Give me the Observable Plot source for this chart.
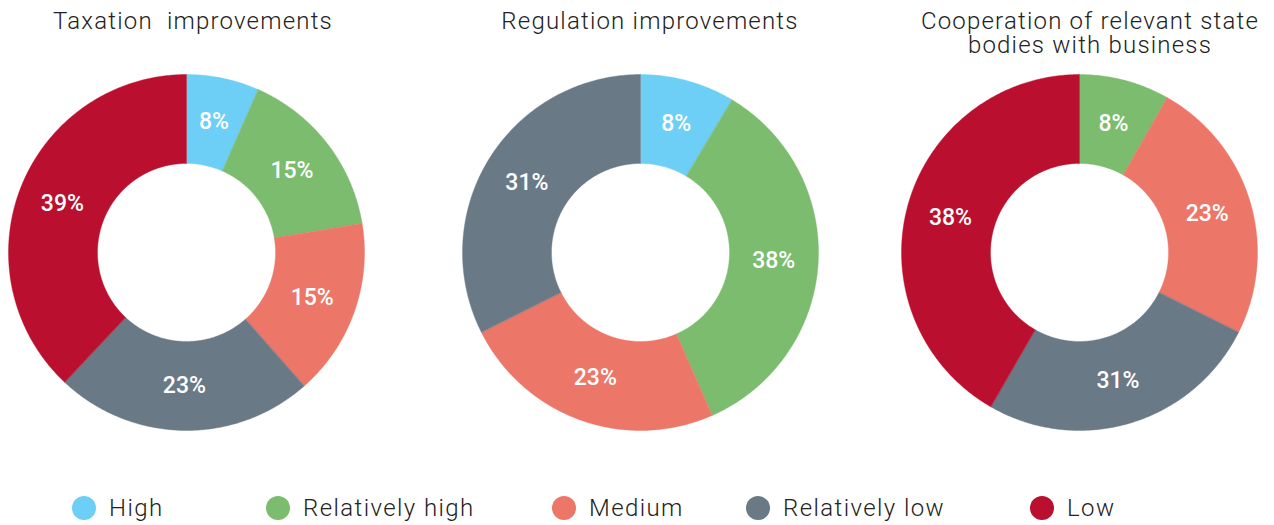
<!DOCTYPE html>
<html>
<head>
<meta charset="utf-8">
<script src="https://cdn.jsdelivr.net/npm/d3@7"></script>
<script src="https://cdn.jsdelivr.net/npm/@observablehq/plot@0.6"></script>
<style>
  html, body { margin: 0; padding: 0; background: #fff; }
  #root { position: relative; width: 1274px; height: 525px; overflow: hidden; font-family: Roboto, "Noto Sans", sans-serif; }
  .title { position: absolute; transform: translateX(-50%); text-align: center; white-space: pre; font-size: 24px; font-weight: 300; line-height: 24px; letter-spacing: 1.2px; color: #222; }
  .donut { position: absolute; }
  .legend-item { position: absolute; display: flex; align-items: center; transform: translateY(-50%); }
  .legend-dot { width: 24px; height: 24px; border-radius: 50%; margin-right: 13px; }
  .legend-label { font-size: 24px; font-weight: 300; letter-spacing: 1.4px; color: #222; }
</style>
</head>
<body>
<div id="root"></div>
<script>
// ---- data ----
const categories = ["High", "Relatively high", "Medium", "Relatively low", "Low"];
const colors = ["#6DCFF6", "#7BBC6F", "#EC7667", "#6A7986", "#BA0F2E"];
const chartTitles = ["Taxation  improvements", "Regulation improvements", "Cooperation of relevant state\nbodies with business"];
// slice shares as drawn
const taxationShare = [6.6, 15.8, 16.1, 23.5, 38.0];
const regulationShare = [8.6, 34.8, 24.2, 32.4, 0];
const cooperationShare = [0, 8.2, 24.2, 25.9, 41.7];
// printed percentages
const taxationPct = [8, 15, 15, 23, 39];
const regulationPct = [8, 38, 23, 31, 0];
const cooperationPct = [0, 8, 23, 31, 38];

// ---- layout ----
const R_OUT = 178, R_IN = 89, BOX = 180;
const centers = [[185.5, 252], [640, 252], [1078.5, 251.5]];
const titlePos = [[193, 9], [650, 9], [1090, 9]];
const legendX = [72, 266, 552, 746, 1030];
const legendY = 508;

const root = document.getElementById("root");
const shares = [taxationShare, regulationShare, cooperationShare];
const pcts = [taxationPct, regulationPct, cooperationPct];

function slicePolygons(share) {
  const pie = d3.pie().sort(null).value(d => d.v)(share.map((v, i) => ({v, i})));
  const pts = [];
  const labels = [];
  pie.forEach(p => {
    if (p.data.v <= 0) return;
    const cat = categories[p.data.i];
    const n = Math.max(2, Math.ceil((p.endAngle - p.startAngle) / 0.01));
    for (let k = 0; k <= n; k++) {
      const a = p.startAngle + (p.endAngle - p.startAngle) * k / n;
      pts.push({cat, x: R_OUT * Math.sin(a), y: R_OUT * Math.cos(a)});
    }
    for (let k = n; k >= 0; k--) {
      const a = p.startAngle + (p.endAngle - p.startAngle) * k / n;
      pts.push({cat, x: R_IN * Math.sin(a), y: R_IN * Math.cos(a)});
    }
    const m = (p.startAngle + p.endAngle) / 2, rm = (R_OUT + R_IN) / 2;
    labels.push({cat, i: p.data.i, x: rm * Math.sin(m), y: rm * Math.cos(m)});
  });
  return {pts, labels};
}

shares.forEach((share, ci) => {
  const {pts, labels} = slicePolygons(share);
  labels.forEach(l => l.text = pcts[ci][l.i] + "%");
  const chart = Plot.plot({
    width: 2 * BOX, height: 2 * BOX,
    margin: 0,
    x: {domain: [-BOX, BOX], range: [0, 2 * BOX], axis: null},
    y: {domain: [-BOX, BOX], range: [2 * BOX, 0], axis: null},
    color: {domain: categories, range: colors},
    style: {background: "transparent", overflow: "visible"},
    marks: [
      Plot.line(pts, {x: "x", y: "y", z: "cat", fill: "cat", stroke: "cat", strokeWidth: 0.4, curve: "linear-closed"}),
      Plot.text(labels, {x: "x", y: "y", text: "text", fill: "white", fontSize: 23, fontWeight: 500,
        fontFamily: "Roboto, 'Noto Sans', sans-serif", style: "letter-spacing:0.6px"})
    ]
  });
  const div = document.createElement("div");
  div.className = "donut";
  div.style.left = (centers[ci][0] - BOX) + "px";
  div.style.top = (centers[ci][1] - BOX) + "px";
  div.appendChild(chart);
  root.appendChild(div);

  const t = document.createElement("div");
  t.className = "title";
  t.textContent = chartTitles[ci];
  t.style.left = titlePos[ci][0] + "px";
  t.style.top = titlePos[ci][1] + "px";
  root.appendChild(t);
});

categories.forEach((c, i) => {
  const item = document.createElement("div");
  item.className = "legend-item";
  item.style.left = legendX[i] + "px";
  item.style.top = legendY + "px";
  const dot = document.createElement("span");
  dot.className = "legend-dot";
  dot.style.background = colors[i];
  const lab = document.createElement("span");
  lab.className = "legend-label";
  lab.textContent = c;
  item.appendChild(dot);
  item.appendChild(lab);
  root.appendChild(item);
});
</script>
</body>
</html>
